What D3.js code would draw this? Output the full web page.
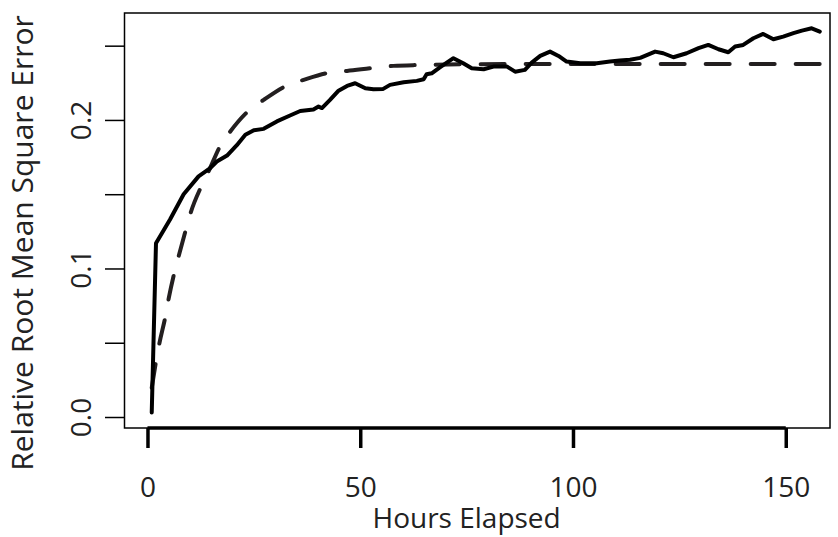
<!DOCTYPE html>
<meta charset="utf-8">
<script src="https://d3js.org/d3.v7.min.js"></script>
<style>
  body { margin: 0; background: #fff; }
  text { font-family: "Open Sans", sans-serif; fill: #222; }
</style>
<body>
<div id="canvas"></div>
<script>

// observed error (solid line)
var hours = [1, 2, 5.3, 8.5, 12, 14.5, 16.3, 18.7, 21, 23, 25, 27.3, 30.4, 33.5, 35.9, 39, 40.2, 41,
  42.9, 44.9, 46.9, 48.8, 51.2, 53.1, 55.4, 57, 60.2, 63.3, 64.9, 65.6, 66.8, 68.8, 71.9, 74.2, 76.2,
  79, 81.3, 84.5, 86.4, 88.7, 90.3, 92.3, 94.6, 96.6, 98.5, 101.7, 105.6, 108.7, 111, 113.4, 115.8,
  119.3, 121.2, 123.6, 126.7, 129.5, 131.8, 134.2, 136.5, 138.1, 140, 142.4, 144.7, 147.1, 149.4,
  151.8, 153.8, 156.1, 158];
var rmse = [0.003, 0.117, 0.133, 0.150, 0.162, 0.167, 0.172, 0.176, 0.183, 0.190, 0.193, 0.194, 0.199,
  0.203, 0.206, 0.207, 0.209, 0.208, 0.2135, 0.2197, 0.2229, 0.2247, 0.2213, 0.2207, 0.2209, 0.2236,
  0.2254, 0.2263, 0.2274, 0.2308, 0.2314, 0.2355, 0.2416, 0.2382, 0.2348, 0.2341, 0.2359, 0.2359,
  0.2325, 0.2337, 0.2386, 0.2431, 0.246, 0.2431, 0.2393, 0.2382, 0.2382, 0.2393, 0.240, 0.2405,
  0.2418, 0.246, 0.2449, 0.2422, 0.2449, 0.2483, 0.2505, 0.2476, 0.2456, 0.2494, 0.2505, 0.255,
  0.2579, 0.2543, 0.2561, 0.2584, 0.2601, 0.2617, 0.2595];

// fitted curve (dashed line)
var fitHours = [1, 2, 2.8, 4.2, 5, 6.3, 7.3, 9.1, 10.2, 12.6, 14.3, 17.2, 19.4, 23.7, 27.3, 32.8,
  36.7, 42.9, 46.9, 53.5, 57.8, 64, 75, 90, 120, 158.5];
var fitRmse = [0.0196, 0.0373, 0.0496, 0.0675, 0.080, 0.097, 0.108, 0.127, 0.138, 0.155, 0.165, 0.183,
  0.192, 0.206, 0.2135, 0.2232, 0.227, 0.2319, 0.233, 0.2352, 0.2364, 0.237, 0.2375, 0.2377, 0.2377, 0.2377];

var xTicks = [0, 50, 100, 150];
var yTicks = [0, 0.05, 0.1, 0.15, 0.2, 0.25];
var yLabels = ["0.0", "", "0.1", "", "0.2", ""];

var width = 838, height = 537;
var box = {left: 124.5, top: 13, right: 830, bottom: 428};

var svg = d3.select("#canvas").append("svg")
  .attr("width", width)
  .attr("height", height);

var x = d3.scaleLinear().domain([-5.4, 160.4]).range([box.left, box.right]);
var y = d3.scaleLinear().domain([-0.0074, 0.272]).range([box.bottom, box.top]);

// x axis: thick line only over the tick range, like R
var xAxis = svg.append("g")
  .attr("transform", "translate(0," + box.bottom + ")")
  .call(d3.axisBottom(x).tickValues(xTicks).tickSize(20).tickFormat(d3.format("d")));
xAxis.select(".domain").remove();
xAxis.selectAll(".tick line").attr("stroke", "#000").attr("stroke-width", 3.5);
xAxis.selectAll(".tick text").style("font-size", "28px").attr("fill", "#222").attr("dy", 0).attr("y", 69);
xAxis.append("line")
  .attr("x1", x(0)).attr("x2", x(150))
  .attr("stroke", "#000").attr("stroke-width", 3.5);

// y axis
var yAxis = svg.append("g")
  .attr("transform", "translate(" + box.left + ",0)")
  .call(d3.axisLeft(y).tickValues(yTicks).tickSize(19.5).tickFormat(function(d, i) { return yLabels[i]; }));
yAxis.select(".domain").remove();
yAxis.selectAll(".tick line").attr("stroke", "#000").attr("stroke-width", 1.5);
yAxis.selectAll(".tick text")
  .style("font-size", "28px")
  .attr("fill", "#222")
  .attr("x", null).attr("dy", null)
  .attr("text-anchor", "middle")
  .attr("transform", "translate(-34,0) rotate(-90)");

// box
svg.append("rect")
  .attr("x", box.left).attr("y", box.top)
  .attr("width", box.right - box.left).attr("height", box.bottom - box.top)
  .attr("fill", "none").attr("stroke", "#000").attr("stroke-width", 1.5);

// lines
var fitLine = d3.line()
  .x(function(d, i) { return x(fitHours[i]); })
  .y(function(d) { return y(d); })
  .curve(d3.curveMonotoneX);
svg.append("path")
  .attr("d", fitLine(fitRmse))
  .attr("fill", "none")
  .attr("stroke", "#231f20")
  .attr("stroke-width", 4)
  .attr("stroke-linecap", "round")
  .attr("stroke-dasharray", "24,21");

var obsLine = d3.line()
  .x(function(d, i) { return x(hours[i]); })
  .y(function(d) { return y(d); });
svg.append("path")
  .attr("d", obsLine(rmse))
  .attr("fill", "none")
  .attr("stroke", "#000")
  .attr("stroke-width", 4)
  .attr("stroke-linejoin", "round")
  .attr("stroke-linecap", "round");

// axis titles
svg.append("text")
  .attr("x", x(75)).attr("y", 528)
  .attr("text-anchor", "middle")
  .style("font-size", "28px")
  .text("Hours Elapsed");

svg.append("text")
  .attr("transform", "translate(33,243) rotate(-90)")
  .attr("text-anchor", "middle")
  .style("font-size", "30px")
  .text("Relative Root Mean Square Error");

</script>
</body>
